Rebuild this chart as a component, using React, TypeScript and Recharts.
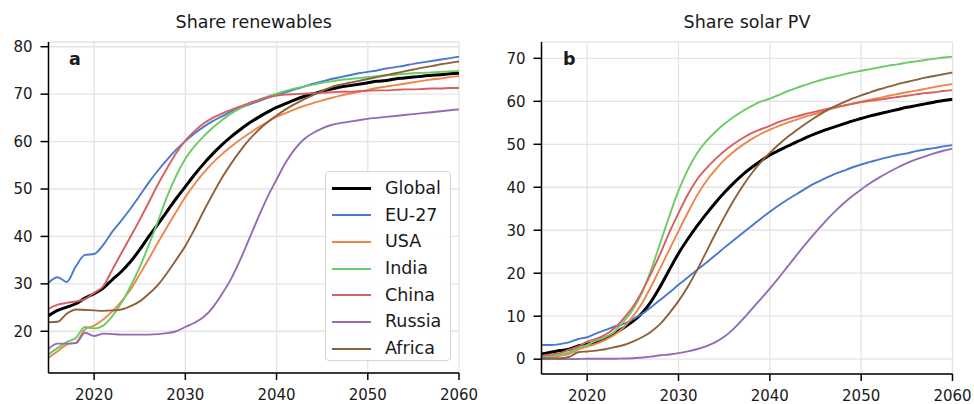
import React from 'react';
import { LineChart, Line, XAxis, YAxis, CartesianGrid, Legend } from 'recharts';

const years = [
  2015, 2016, 2017, 2018, 2019, 2020, 2021, 2022, 2023, 2024,
  2025, 2026, 2027, 2028, 2029, 2030, 2031, 2032, 2033, 2034,
  2035, 2036, 2037, 2038, 2039, 2040, 2041, 2042, 2043, 2044,
  2045, 2046, 2047, 2048, 2049, 2050, 2051, 2052, 2053, 2054,
  2055, 2056, 2057, 2058, 2059, 2060,
];

const seriesNames = ['Global', 'EU-27', 'USA', 'India', 'China', 'Russia', 'Africa'];
const seriesColors = ['#000000', '#4878d0', '#ee854a', '#6acc64', '#d65f5f', '#956cb4', '#8c613c'];

// Share renewables (%)
const renGlobal = [23.3, 24.4, 25.1, 25.8, 27.0, 27.9, 29.1, 30.9, 32.6, 34.7, 37.2, 40.0, 42.6, 45.3, 48.0, 50.5, 53.0, 55.3, 57.4, 59.3, 61.0, 62.5, 63.9, 65.1, 66.2, 67.2, 68.0, 68.8, 69.5, 70.1, 70.6, 71.1, 71.5, 71.8, 72.1, 72.4, 72.7, 72.9, 73.2, 73.4, 73.6, 73.8, 74.0, 74.1, 74.3, 74.4];
const renEU = [30.2, 31.4, 30.4, 33.7, 36.1, 36.3, 38.2, 41.0, 43.4, 45.9, 48.6, 51.4, 53.9, 56.2, 58.3, 60.1, 61.7, 63.1, 64.3, 65.3, 66.3, 67.1, 67.8, 68.5, 69.2, 69.8, 70.4, 71.0, 71.6, 72.2, 72.7, 73.2, 73.6, 74.0, 74.4, 74.7, 75.0, 75.4, 75.7, 76.0, 76.4, 76.7, 77.0, 77.3, 77.6, 77.9];
const renUSA = [14.4, 15.8, 17.2, 17.6, 20.4, 21.2, 22.5, 24.2, 26.3, 28.8, 32.0, 35.3, 38.7, 42.0, 45.2, 48.3, 51.0, 53.4, 55.5, 57.3, 58.9, 60.4, 61.7, 63.0, 64.1, 65.2, 66.0, 66.8, 67.5, 68.1, 68.7, 69.2, 69.7, 70.1, 70.5, 70.9, 71.3, 71.6, 71.9, 72.2, 72.5, 72.8, 73.1, 73.3, 73.6, 73.8];
const renIndia = [15.1, 16.5, 17.7, 18.6, 20.9, 20.6, 21.2, 23.2, 26.0, 29.5, 33.5, 38.2, 43.2, 48.4, 52.8, 56.4, 59.0, 61.1, 62.9, 64.5, 65.9, 67.0, 68.0, 68.8, 69.5, 70.1, 70.7, 71.2, 71.6, 72.0, 72.4, 72.7, 73.0, 73.2, 73.4, 73.6, 73.8, 74.0, 74.1, 74.3, 74.4, 74.5, 74.6, 74.7, 74.8, 74.9];
const renChina = [24.7, 25.6, 26.0, 26.3, 26.8, 28.1, 29.5, 33.0, 36.5, 40.0, 43.5, 47.2, 51.0, 54.4, 57.6, 60.2, 62.2, 63.8, 65.0, 65.9, 66.7, 67.4, 68.1, 68.7, 69.3, 69.7, 69.9, 70.0, 70.1, 70.2, 70.3, 70.4, 70.5, 70.5, 70.6, 70.7, 70.8, 70.8, 70.9, 71.0, 71.0, 71.1, 71.2, 71.2, 71.3, 71.3];
const renRussia = [16.3, 17.4, 17.4, 17.5, 19.7, 19.0, 19.5, 19.4, 19.3, 19.3, 19.3, 19.3, 19.4, 19.6, 20.0, 20.9, 21.8, 23.0, 25.0, 27.8, 31.0, 35.0, 39.5, 44.0, 48.3, 52.0, 55.6, 58.4, 60.5, 61.8, 62.8, 63.5, 63.9, 64.2, 64.5, 64.8, 65.0, 65.2, 65.4, 65.6, 65.8, 66.0, 66.2, 66.4, 66.6, 66.8];
const renAfrica = [21.9, 22.0, 23.7, 24.6, 24.5, 24.4, 24.3, 24.4, 24.6, 25.3, 26.3, 27.9, 29.8, 32.3, 35.1, 38.0, 41.5, 45.3, 48.9, 52.3, 55.3, 58.0, 60.4, 62.4, 64.1, 65.5, 66.8, 67.9, 68.9, 69.8, 70.7, 71.5, 72.0, 72.4, 72.8, 73.2, 73.6, 74.0, 74.4, 74.8, 75.2, 75.6, 75.9, 76.3, 76.6, 76.9];

// Share solar PV (%)
const solGlobal = [1.2, 1.6, 2.0, 2.3, 3.1, 3.5, 4.1, 4.9, 6.0, 7.3, 8.8, 10.7, 13.4, 16.9, 20.8, 24.6, 27.9, 30.9, 33.7, 36.3, 38.7, 40.9, 42.9, 44.6, 46.1, 47.5, 48.6, 49.6, 50.6, 51.6, 52.5, 53.3, 54.0, 54.7, 55.4, 56.0, 56.6, 57.1, 57.6, 58.1, 58.6, 59.0, 59.4, 59.8, 60.2, 60.5];
const solEU = [3.3, 3.3, 3.5, 3.9, 4.7, 5.1, 6.0, 6.8, 7.6, 8.2, 9.3, 10.5, 12.1, 13.8, 15.5, 17.3, 19.0, 20.7, 22.4, 24.1, 25.9, 27.6, 29.3, 31.0, 32.7, 34.3, 35.8, 37.2, 38.5, 39.8, 41.0, 42.0, 43.0, 43.8, 44.6, 45.3, 45.9, 46.5, 47.0, 47.5, 47.9, 48.4, 48.8, 49.1, 49.5, 49.8];
const solUSA = [0.5, 0.6, 0.8, 1.2, 2.2, 2.9, 3.6, 4.5, 5.7, 7.4, 9.9, 13.0, 16.9, 21.2, 25.5, 29.8, 34.0, 38.0, 41.3, 44.0, 46.3, 48.2, 49.8, 51.2, 52.4, 53.4, 54.3, 55.1, 55.8, 56.5, 57.1, 57.8, 58.4, 58.9, 59.4, 59.9, 60.4, 60.8, 61.3, 61.7, 62.1, 62.5, 62.9, 63.3, 63.7, 64.0];
const solIndia = [0.5, 0.7, 1.0, 1.6, 2.6, 3.3, 4.3, 5.1, 6.4, 8.8, 11.5, 15.5, 20.8, 27.0, 33.3, 39.2, 44.0, 47.8, 50.6, 52.8, 54.7, 56.3, 57.7, 58.9, 59.9, 60.6, 61.5, 62.4, 63.2, 63.9, 64.6, 65.2, 65.7, 66.2, 66.7, 67.1, 67.5, 67.9, 68.3, 68.6, 69.0, 69.3, 69.6, 69.9, 70.2, 70.4];
const solChina = [0.8, 1.1, 1.4, 2.2, 2.9, 4.1, 4.7, 5.7, 7.2, 9.5, 12.2, 15.7, 20.0, 24.5, 29.5, 34.0, 38.2, 41.7, 44.3, 46.5, 48.4, 50.0, 51.4, 52.6, 53.5, 54.3, 55.2, 55.9, 56.5, 57.1, 57.6, 58.1, 58.6, 59.0, 59.4, 59.8, 60.1, 60.4, 60.7, 61.0, 61.3, 61.6, 61.9, 62.1, 62.4, 62.6];
const solRussia = [0.0, 0.0, 0.0, 0.0, 0.05, 0.1, 0.1, 0.1, 0.1, 0.15, 0.2, 0.4, 0.6, 0.9, 1.1, 1.4, 1.8, 2.3, 3.0, 3.9, 5.2, 7.0, 9.2, 11.6, 14.0, 16.4, 19.0, 21.7, 24.4, 27.0, 29.5, 31.9, 34.1, 36.1, 37.9, 39.5, 41.0, 42.3, 43.5, 44.6, 45.6, 46.5, 47.2, 47.9, 48.5, 49.0];
const solAfrica = [0.2, 0.2, 0.2, 0.5, 1.6, 1.8, 2.0, 2.3, 2.8, 3.3, 4.1, 5.1, 6.4, 8.2, 10.7, 13.5, 16.8, 20.6, 24.8, 29.0, 33.0, 36.8, 40.2, 43.2, 45.8, 48.0, 50.0, 51.8, 53.4, 54.9, 56.3, 57.6, 58.7, 59.7, 60.6, 61.4, 62.1, 62.8, 63.4, 64.0, 64.5, 65.0, 65.5, 65.9, 66.3, 66.7];

const xTicks = [2020, 2030, 2040, 2050, 2060];
const renTicks = [20, 30, 40, 50, 60, 70, 80];
const solTicks = [0, 10, 20, 30, 40, 50, 60, 70];

const renSeries = [renGlobal, renEU, renUSA, renIndia, renChina, renRussia, renAfrica];
const solSeries = [solGlobal, solEU, solUSA, solIndia, solChina, solRussia, solAfrica];

const buildRows = (series: number[][]) =>
  years.map((year, i) => {
    const row: Record<string, number> = { year };
    seriesNames.forEach((n, k) => {
      row[n] = series[k][i];
    });
    return row;
  });

const renData = buildRows(renSeries);
const solData = buildRows(solSeries);

const FONT = '"DejaVu Sans", Verdana, sans-serif';
const TEXT = '#1a1a1a';
const GRID = '#e4e4e4';

const renderLegend = () => (
  <div
    style={{
      boxSizing: 'border-box',
      width: 126,
      height: 190,
      border: '1px solid #d6d6d6',
      borderRadius: 4,
      background: 'rgba(255,255,255,0.85)',
      paddingTop: 3,
      fontFamily: FONT,
      fontSize: 17.5,
      color: TEXT,
    }}
  >
    {seriesNames.map((n, k) => (
      <div key={n} style={{ position: 'relative', height: 26.7 }}>
        <div
          style={{
            position: 'absolute',
            left: 6,
            top: k === 0 ? 12 : 12.6,
            width: 39,
            height: k === 0 ? 3 : 2,
            background: seriesColors[k],
          }}
        />
        <div style={{ position: 'absolute', left: 59, top: 0, lineHeight: '26.7px', whiteSpace: 'nowrap' }}>{n}</div>
      </div>
    ))}
  </div>
);

type PanelProps = {
  data: Record<string, number>[];
  yDomain: [number, number];
  yTicks: number[];
  yWidth: number;
  right: number;
  bottom: number;
  legend?: boolean;
};

const Panel = ({ data, yDomain, yTicks, yWidth, right, bottom, legend }: PanelProps) => (
  <LineChart width={487} height={404} data={data} margin={{ top: 42, right, bottom, left: 0 }}>
    <CartesianGrid stroke={GRID} strokeWidth={1.3} />
    <XAxis
      dataKey="year"
      type="number"
      domain={[2015, 2060]}
      ticks={xTicks}
      height={30}
      allowDataOverflow
      axisLine={{ stroke: '#000', strokeWidth: 1.5 }}
      tickLine={{ stroke: '#000', strokeWidth: 1.5 }}
      tickSize={7}
      tickMargin={9}
      tick={{ fill: TEXT, fontSize: 15, fontFamily: FONT }}
    />
    <YAxis
      type="number"
      domain={yDomain}
      ticks={yTicks}
      width={yWidth}
      allowDataOverflow
      axisLine={{ stroke: '#000', strokeWidth: 1.5 }}
      tickLine={{ stroke: '#000', strokeWidth: 1.5 }}
      tickSize={8}
      tickMargin={8}
      tick={{ fill: TEXT, fontSize: 15, fontFamily: FONT }}
    />
    {seriesNames.map((n, k) => (
      <Line
        key={n}
        type="monotone"
        dataKey={n}
        stroke={seriesColors[k]}
        strokeWidth={k === 0 ? 3 : 1.9}
        dot={false}
        activeDot={false}
        isAnimationActive={false}
      />
    ))}
    {legend && (
      <Legend
        layout="vertical"
        align="center"
        verticalAlign="middle"
        content={renderLegend}
        wrapperStyle={{ left: 325, top: 171, width: 126, height: 190 }}
      />
    )}
  </LineChart>
);

const titleStyle: React.CSSProperties = {
  position: 'absolute',
  top: 12,
  fontFamily: FONT,
  fontSize: 17.5,
  lineHeight: '20px',
  color: TEXT,
  textAlign: 'center',
  whiteSpace: 'nowrap',
};

const tagStyle: React.CSSProperties = {
  position: 'absolute',
  top: 49,
  fontFamily: FONT,
  fontSize: 17.5,
  fontWeight: 'bold',
  lineHeight: '20px',
  color: TEXT,
};

export default function App() {
  return (
    <div style={{ position: 'absolute', left: 0, top: 0, width: 974, height: 404, background: '#fff', overflow: 'hidden' }}>
      <div style={{ position: 'absolute', left: 0, top: 0 }}>
        <Panel data={renData} yDomain={[11.2, 81]} yTicks={renTicks} yWidth={48.5} right={28} bottom={1} legend />
      </div>
      <div style={{ position: 'absolute', left: 487, top: 0 }}>
        <Panel data={solData} yDomain={[-3.45, 73.8]} yTicks={solTicks} yWidth={54.5} right={21.5} bottom={0} />
      </div>
      <div style={{ ...titleStyle, left: 153.75, width: 200 }}>Share renewables</div>
      <div style={{ ...titleStyle, left: 647, width: 200 }}>Share solar PV</div>
      <div style={{ ...tagStyle, left: 69 }}>a</div>
      <div style={{ ...tagStyle, left: 563 }}>b</div>
    </div>
  );
}
